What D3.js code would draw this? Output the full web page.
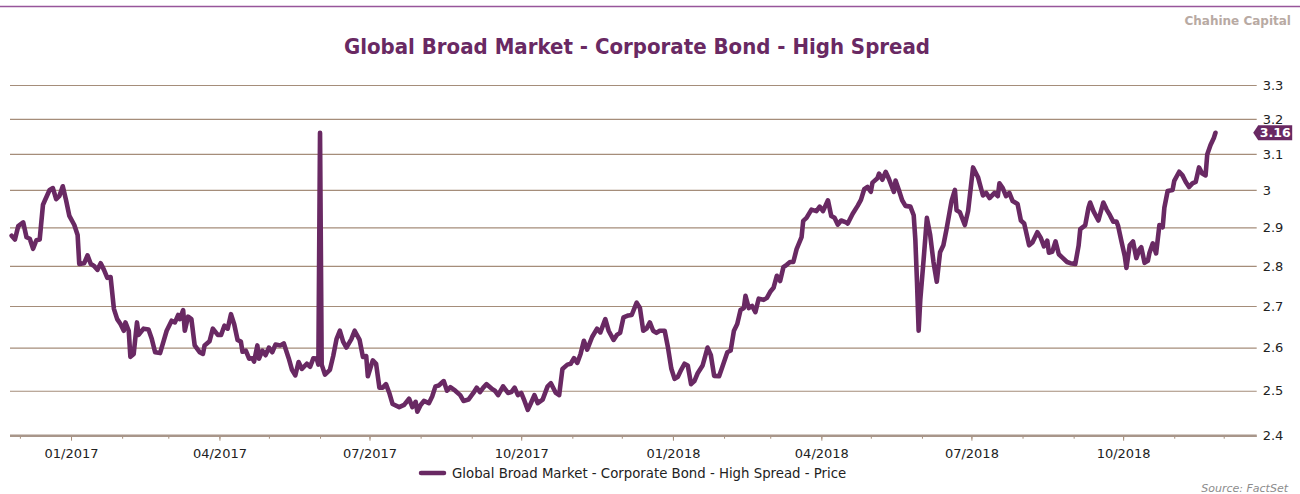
<!DOCTYPE html>
<html>
<head>
<meta charset="utf-8">
<script src="https://cdn.jsdelivr.net/npm/d3@7"></script>
<style>
    body { margin: 0; background: #ffffff; }
    #chart { width: 1300px; height: 494px; }
</style>
</head>
<body>
<div id="chart"></div>
<script>
var title_text = "Global Broad Market - Corporate Bond - High Spread";
var series_name = "Global Broad Market - Corporate Bond - High Spread - Price";
var brand_text = "Chahine Capital";
var source_text = "Source: FactSet";

var y_ticks = [2.4, 2.5, 2.6, 2.7, 2.8, 2.9, 3.0, 3.1, 3.2, 3.3];
var x_domain = ["2016-11-25", "2018-12-21"];

var dates = [
    "2016-11-26", "2016-11-28", "2016-11-30", "2016-12-03", "2016-12-05", "2016-12-07", "2016-12-09", "2016-12-11",
    "2016-12-13", "2016-12-15", "2016-12-16", "2016-12-19", "2016-12-21", "2016-12-23", "2016-12-25", "2016-12-27",
    "2016-12-29", "2016-12-31", "2017-01-03", "2017-01-05", "2017-01-06", "2017-01-09", "2017-01-11", "2017-01-13",
    "2017-01-15", "2017-01-17", "2017-01-19", "2017-01-21", "2017-01-23", "2017-01-25", "2017-01-27", "2017-01-29",
    "2017-01-31", "2017-02-02", "2017-02-03", "2017-02-05", "2017-02-06", "2017-02-08", "2017-02-10", "2017-02-11",
    "2017-02-14", "2017-02-17", "2017-02-19", "2017-02-21", "2017-02-24", "2017-02-28", "2017-03-03", "2017-03-05",
    "2017-03-07", "2017-03-08", "2017-03-10", "2017-03-11", "2017-03-13", "2017-03-15", "2017-03-17", "2017-03-20",
    "2017-03-22", "2017-03-23", "2017-03-26", "2017-03-28", "2017-03-31", "2017-04-02", "2017-04-04", "2017-04-06",
    "2017-04-08", "2017-04-10", "2017-04-12", "2017-04-14", "2017-04-15", "2017-04-17", "2017-04-19", "2017-04-21",
    "2017-04-22", "2017-04-24", "2017-04-25", "2017-04-27", "2017-04-29", "2017-05-01", "2017-05-03", "2017-05-05",
    "2017-05-08", "2017-05-10", "2017-05-13", "2017-05-15", "2017-05-17", "2017-05-19", "2017-05-21", "2017-05-24",
    "2017-05-26", "2017-05-28", "2017-05-30", "2017-05-31", "2017-06-01", "2017-06-02", "2017-06-04", "2017-06-07",
    "2017-06-09", "2017-06-11", "2017-06-13", "2017-06-15", "2017-06-17", "2017-06-20", "2017-06-22", "2017-06-25",
    "2017-06-27", "2017-06-29", "2017-06-30", "2017-07-03", "2017-07-05", "2017-07-07", "2017-07-09", "2017-07-11",
    "2017-07-13", "2017-07-15", "2017-07-19", "2017-07-22", "2017-07-25", "2017-07-27", "2017-07-29", "2017-07-30",
    "2017-08-01", "2017-08-03", "2017-08-06", "2017-08-08", "2017-08-10", "2017-08-12", "2017-08-15", "2017-08-17",
    "2017-08-19", "2017-08-22", "2017-08-25", "2017-08-27", "2017-08-30", "2017-09-02", "2017-09-04", "2017-09-06",
    "2017-09-08", "2017-09-10", "2017-09-13", "2017-09-15", "2017-09-17", "2017-09-20", "2017-09-23", "2017-09-25",
    "2017-09-27", "2017-09-29", "2017-10-01", "2017-10-03", "2017-10-05", "2017-10-07", "2017-10-09", "2017-10-11",
    "2017-10-14", "2017-10-17", "2017-10-19", "2017-10-22", "2017-10-24", "2017-10-26", "2017-10-29", "2017-10-31",
    "2017-11-02", "2017-11-04", "2017-11-06", "2017-11-08", "2017-11-10", "2017-11-13", "2017-11-16", "2017-11-18",
    "2017-11-21", "2017-11-23", "2017-11-26", "2017-11-28", "2017-11-30", "2017-12-02", "2017-12-05", "2017-12-07",
    "2017-12-10", "2017-12-12", "2017-12-14", "2017-12-16", "2017-12-18", "2017-12-20", "2017-12-22", "2017-12-24",
    "2017-12-27", "2017-12-29", "2017-12-31", "2018-01-02", "2018-01-04", "2018-01-06", "2018-01-08", "2018-01-10",
    "2018-01-12", "2018-01-14", "2018-01-16", "2018-01-19", "2018-01-22", "2018-01-24", "2018-01-26", "2018-01-29",
    "2018-01-31", "2018-02-03", "2018-02-05", "2018-02-07", "2018-02-09", "2018-02-11", "2018-02-13", "2018-02-14",
    "2018-02-16", "2018-02-18", "2018-02-20", "2018-02-22", "2018-02-25", "2018-02-27", "2018-03-01", "2018-03-03",
    "2018-03-05", "2018-03-07", "2018-03-09", "2018-03-11", "2018-03-13", "2018-03-15", "2018-03-17", "2018-03-20",
    "2018-03-21", "2018-03-23", "2018-03-26", "2018-03-29", "2018-03-31", "2018-04-02", "2018-04-05", "2018-04-07",
    "2018-04-09", "2018-04-11", "2018-04-13", "2018-04-16", "2018-04-17", "2018-04-20", "2018-04-23", "2018-04-25",
    "2018-04-27", "2018-04-29", "2018-05-01", "2018-05-02", "2018-05-05", "2018-05-06", "2018-05-08", "2018-05-10",
    "2018-05-12", "2018-05-15", "2018-05-16", "2018-05-18", "2018-05-20", "2018-05-22", "2018-05-25", "2018-05-27",
    "2018-05-28", "2018-05-29", "2018-05-30", "2018-05-31", "2018-06-02", "2018-06-04", "2018-06-06", "2018-06-08",
    "2018-06-10", "2018-06-12", "2018-06-14", "2018-06-16", "2018-06-19", "2018-06-21", "2018-06-22", "2018-06-24",
    "2018-06-27", "2018-06-29", "2018-07-02", "2018-07-05", "2018-07-06", "2018-07-08", "2018-07-10", "2018-07-12",
    "2018-07-15", "2018-07-17", "2018-07-18", "2018-07-20", "2018-07-22", "2018-07-24", "2018-07-26", "2018-07-29",
    "2018-07-31", "2018-08-02", "2018-08-05", "2018-08-07", "2018-08-10", "2018-08-12", "2018-08-14", "2018-08-16",
    "2018-08-17", "2018-08-19", "2018-08-21", "2018-08-23", "2018-08-25", "2018-08-28", "2018-08-30", "2018-09-02",
    "2018-09-04", "2018-09-05", "2018-09-08", "2018-09-10", "2018-09-11", "2018-09-13", "2018-09-16", "2018-09-19",
    "2018-09-21", "2018-09-23", "2018-09-25", "2018-09-27", "2018-09-28", "2018-09-30", "2018-10-02", "2018-10-03",
    "2018-10-05", "2018-10-07", "2018-10-09", "2018-10-11", "2018-10-12", "2018-10-14", "2018-10-16", "2018-10-17",
    "2018-10-19", "2018-10-21", "2018-10-23", "2018-10-25", "2018-10-26", "2018-10-28", "2018-10-31", "2018-11-01",
    "2018-11-04", "2018-11-06", "2018-11-08", "2018-11-10", "2018-11-12", "2018-11-14", "2018-11-16", "2018-11-18",
    "2018-11-20", "2018-11-21", "2018-11-23", "2018-11-25", "2018-11-26"
];

var prices = [
    2.878, 2.868, 2.903, 2.913, 2.874, 2.870, 2.844, 2.866,
    2.868, 2.960, 2.970, 3.000, 3.005, 2.975, 2.984, 3.010,
    2.972, 2.930, 2.906, 2.880, 2.805, 2.807, 2.827, 2.805,
    2.800, 2.790, 2.807, 2.790, 2.770, 2.772, 2.693, 2.668,
    2.656, 2.640, 2.660, 2.640, 2.578, 2.585, 2.660, 2.630,
    2.645, 2.643, 2.620, 2.589, 2.587, 2.640, 2.664, 2.660,
    2.678, 2.668, 2.690, 2.640, 2.674, 2.668, 2.605, 2.589,
    2.585, 2.605, 2.615, 2.645, 2.630, 2.630, 2.652, 2.645,
    2.680, 2.655, 2.618, 2.614, 2.590, 2.593, 2.574, 2.575,
    2.567, 2.605, 2.574, 2.593, 2.582, 2.600, 2.589, 2.607,
    2.605, 2.610, 2.575, 2.548, 2.535, 2.566, 2.550, 2.562,
    2.555, 2.575, 2.574, 2.560, 3.160, 2.560, 2.537, 2.548,
    2.580, 2.620, 2.640, 2.614, 2.600, 2.620, 2.640, 2.618,
    2.578, 2.580, 2.533, 2.570, 2.562, 2.507, 2.507, 2.515,
    2.495, 2.470, 2.463, 2.468, 2.482, 2.463, 2.475, 2.453,
    2.468, 2.477, 2.472, 2.487, 2.510, 2.512, 2.522, 2.500,
    2.508, 2.500, 2.490, 2.477, 2.480, 2.495, 2.507, 2.497,
    2.507, 2.515, 2.505, 2.500, 2.490, 2.510, 2.495, 2.497,
    2.507, 2.490, 2.495, 2.477, 2.457, 2.473, 2.490, 2.472,
    2.480, 2.510, 2.517, 2.495, 2.490, 2.550, 2.560, 2.562,
    2.575, 2.564, 2.585, 2.616, 2.595, 2.625, 2.645, 2.636,
    2.668, 2.640, 2.618, 2.630, 2.635, 2.672, 2.677, 2.678,
    2.708, 2.695, 2.640, 2.645, 2.660, 2.640, 2.635, 2.640,
    2.640, 2.600, 2.551, 2.527, 2.532, 2.548, 2.562, 2.558,
    2.515, 2.522, 2.540, 2.558, 2.600, 2.582, 2.534, 2.533,
    2.555, 2.589, 2.593, 2.640, 2.656, 2.690, 2.695, 2.725,
    2.695, 2.700, 2.685, 2.718, 2.715, 2.720, 2.735, 2.745,
    2.775, 2.762, 2.797, 2.803, 2.810, 2.810, 2.843, 2.874,
    2.917, 2.925, 2.947, 2.943, 2.955, 2.943, 2.972, 2.930,
    2.925, 2.907, 2.918, 2.913, 2.910, 2.936, 2.957, 2.973,
    3.002, 3.008, 2.995, 3.020, 3.032, 3.045, 3.028, 3.050,
    3.030, 2.995, 3.026, 3.000, 2.972, 2.957, 2.955, 2.932,
    2.868, 2.760, 2.640, 2.715, 2.815, 2.925, 2.880, 2.810,
    2.760, 2.835, 2.853, 2.897, 2.971, 3.000, 2.945, 2.940,
    2.906, 2.943, 3.062, 3.035, 3.018, 2.985, 2.992, 2.978,
    2.992, 2.983, 3.018, 3.005, 2.983, 2.992, 2.970, 2.962,
    2.918, 2.910, 2.853, 2.860, 2.887, 2.873, 2.850, 2.865,
    2.834, 2.836, 2.863, 2.830, 2.822, 2.810, 2.807, 2.805,
    2.852, 2.895, 2.905, 2.952, 2.966, 2.943, 2.918, 2.966,
    2.947, 2.932, 2.915, 2.915, 2.903, 2.863, 2.825, 2.795,
    2.853, 2.863, 2.820, 2.843, 2.848, 2.808, 2.813, 2.834,
    2.858, 2.832, 2.906, 2.900, 2.952, 2.997, 3.000, 3.025,
    3.050, 3.040, 3.022, 3.008, 3.018, 3.022, 3.062, 3.045,
    3.040, 3.098, 3.125, 3.145, 3.160
];

var purple = "#692963";
var grid_color = "#a58d7a";

var width = 1300;
var height = 494;
var plot = {left: 10, right: 1256.7, top: 85, bottom: 435.7};

var parse_date = d3.timeParse("%Y-%m-%d");
var series = dates.map(function(d, i) {
    return {date: parse_date(d), value: prices[i]};
});
var last = series[series.length - 1];

var svg = d3.select("#chart").append("svg")
    .attr("width", width)
    .attr("height", height)
    .style("font-family", "'DejaVu Sans', Verdana, sans-serif");

var x = d3.scaleTime()
    .domain(x_domain.map(parse_date))
    .range([plot.left, plot.right]);

var y = d3.scaleLog()
    .domain([2.4, 3.3])
    .range([plot.bottom, plot.top]);

// top rule and brand
svg.append("line")
    .attr("x1", 0)
    .attr("x2", width)
    .attr("y1", 6.5)
    .attr("y2", 6.5)
    .attr("stroke", "#97569a")
    .attr("stroke-width", 1.5);

svg.append("text")
    .text(brand_text)
    .attr("x", 1291)
    .attr("y", 25)
    .attr("text-anchor", "end")
    .attr("font-size", 12)
    .attr("font-weight", "bold")
    .attr("fill", "#b8aaa3");

svg.append("text")
    .text(title_text)
    .attr("x", 637)
    .attr("y", 54)
    .attr("text-anchor", "middle")
    .attr("font-family", "'DejaVu Sans Condensed', 'DejaVu Sans', sans-serif")
    .attr("font-size", 22)
    .attr("font-weight", "bold")
    .attr("fill", purple);

// grid lines + right axis
var y_axis = svg.append("g")
    .attr("id", "y_axis")
    .attr("transform", "translate(" + plot.right + ",0)")
    .call(d3.axisRight(y)
        .tickValues(y_ticks)
        .tickSize(-(plot.right - plot.left))
        .tickPadding(6)
        .tickFormat(function(d) { return String(+d.toFixed(1)); }));

y_axis.select(".domain").remove();
y_axis.selectAll(".tick line")
    .attr("stroke", grid_color)
    .attr("stroke-width", 1.2);
y_axis.selectAll(".tick text")
    .attr("font-family", "'DejaVu Sans', Verdana, sans-serif")
    .attr("font-size", 13)
    .attr("fill", "#222222");

// bottom axis: months minor, quarters labelled
var month_ticks = d3.timeMonth.range(x.domain()[0], x.domain()[1]);
var quarter_ticks = month_ticks.filter(function(d) { return d.getMonth() % 3 === 0; });

var x_minor = svg.append("g")
    .attr("transform", "translate(0," + plot.bottom + ")")
    .call(d3.axisBottom(x).tickValues(month_ticks).tickSize(3).tickFormat(""));
x_minor.select(".domain").remove();
x_minor.selectAll(".tick line").attr("stroke", grid_color);

var x_axis = svg.append("g")
    .attr("id", "x_axis")
    .attr("transform", "translate(0," + plot.bottom + ")")
    .call(d3.axisBottom(x)
        .tickValues(quarter_ticks)
        .tickSize(5)
        .tickPadding(8)
        .tickFormat(d3.timeFormat("%m/%Y")));

x_axis.select(".domain").remove();
x_axis.selectAll(".tick line").attr("stroke", grid_color);
x_axis.selectAll(".tick text")
    .attr("font-family", "'DejaVu Sans', Verdana, sans-serif")
    .attr("font-size", 13)
    .attr("fill", "#222222");

svg.append("line")
    .attr("x1", plot.left)
    .attr("x2", plot.right)
    .attr("y1", plot.bottom)
    .attr("y2", plot.bottom)
    .attr("stroke", "#a8968a")
    .attr("stroke-width", 2.6);

// the series
var line = d3.line()
    .x(function(d) { return x(d.date); })
    .y(function(d) { return y(d.value); });

svg.append("path")
    .datum(series)
    .attr("d", line)
    .attr("fill", "none")
    .attr("stroke", purple)
    .attr("stroke-width", 4.6)
    .attr("stroke-linejoin", "round")
    .attr("stroke-linecap", "round");

// last value badge
var badge_y = y(last.value);
var badge = svg.append("g")
    .attr("transform", "translate(" + (plot.right - 3.5) + "," + badge_y + ")");

badge.append("path")
    .attr("d", "M0,0 L5,-7.5 L39,-7.5 L39,7.5 L5,7.5 Z")
    .attr("fill", purple);

badge.append("text")
    .text(last.value.toFixed(2))
    .attr("x", 22)
    .attr("y", 4.6)
    .attr("text-anchor", "middle")
    .attr("font-size", 12.5)
    .attr("font-weight", "bold")
    .attr("fill", "#ffffff");

// legend
var legend = svg.append("g")
    .attr("id", "legend")
    .attr("transform", "translate(421,473)");

legend.append("line")
    .attr("x1", 0)
    .attr("x2", 23)
    .attr("y1", 0)
    .attr("y2", 0)
    .attr("stroke", purple)
    .attr("stroke-width", 4.5)
    .attr("stroke-linecap", "round");

legend.append("text")
    .text(series_name)
    .attr("x", 31)
    .attr("y", 4.8)
    .attr("font-size", 13.3)
    .attr("fill", "#222222");

svg.append("text")
    .text(source_text)
    .attr("x", 1288)
    .attr("y", 492)
    .attr("text-anchor", "end")
    .attr("font-size", 11)
    .attr("font-style", "italic")
    .attr("fill", "#8c8c8c");
</script>
</body>
</html>
